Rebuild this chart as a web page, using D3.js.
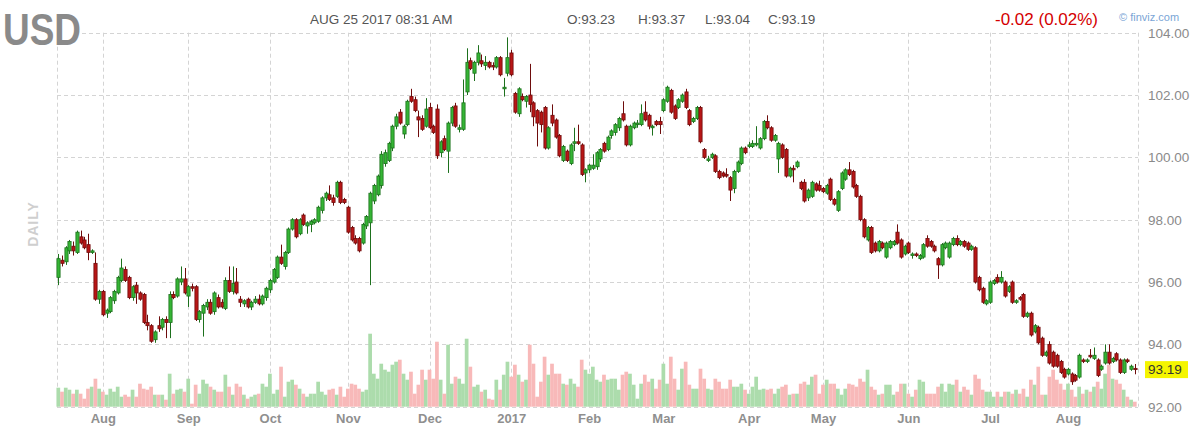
<!DOCTYPE html>
<html><head><meta charset="utf-8">
<script src="https://cdn.jsdelivr.net/npm/d3@7"></script>
<style>
body{margin:0;background:#fff;}
svg{display:block;font-family:"Liberation Sans",Arial,sans-serif;}
</style>
</head><body>
<svg id="chart" width="1198" height="434"></svg>
<script>
// ---------- DATA ----------
const ticker = "USD";
const startDate = "2016-07-14";
const holidays = ["2017-01-02"];
const headerDate = "AUG 25 2017 08:31 AM";
const lastQuote = {o: "93.23", h: "93.37", l: "93.04", c: "93.19"};
const changeText = "-0.02 (0.02%)";
const lastPrice = 93.19;
const priceTicks = [92, 94, 96, 98, 100, 102, 104];
const monthShort = ["Jan","Feb","Mar","Apr","May","Jun","Jul","Aug","Sep","Oct","Nov","Dec"];

// daily candles [open, high, low, close]
const ohlc = [
[96.15,96.9,95.9,96.75],[96.7,96.85,96.5,96.6],[96.65,97.15,96.55,97.1],[97.0,97.35,96.9,97.3],[97.15,97.3,96.85,97.0],
[96.95,97.65,96.9,97.6],[97.45,97.65,97.2,97.25],[97.35,97.45,97.05,97.1],[97.2,97.55,96.7,96.95],[96.95,97.05,96.9,97.0],
[96.6,96.95,95.4,95.45],[95.45,95.75,95.3,95.7],[95.7,95.75,94.9,94.95],[95.0,95.15,94.85,95.1],[95.05,95.55,95.0,95.5],
[95.4,95.75,95.3,95.7],[95.65,96.2,95.6,96.15],[96.05,96.75,96.0,96.45],[96.4,96.5,96.0,96.05],[96.15,96.2,95.45,95.5],
[95.5,95.9,95.4,95.85],[95.9,96.0,95.3,95.65],[95.65,95.7,95.4,95.45],[95.6,95.65,94.65,94.7],[94.7,94.95,94.45,94.6],
[94.6,94.65,94.05,94.1],[94.15,94.45,94.05,94.4],[94.6,94.9,94.4,94.5],[94.55,94.85,94.45,94.8],[94.8,94.9,94.2,94.7],
[94.7,95.7,94.2,95.6],[95.6,95.7,95.45,95.5],[95.55,96.15,95.5,96.1],[96.0,96.5,95.9,96.1],[96.1,96.45,95.6,95.65],
[95.55,95.9,95.2,95.85],[95.85,95.95,95.7,95.8],[95.85,95.9,94.75,94.8],[94.8,95.1,94.7,95.05],[95.0,95.3,94.25,95.25],
[95.2,95.45,95.1,95.35],[95.35,95.45,94.95,95.0],[95.05,95.7,94.95,95.65],[95.5,95.6,95.15,95.2],[95.35,95.45,95.15,95.2],
[95.15,96.15,95.1,96.05],[96.05,96.5,95.65,95.7],[95.7,96.5,95.6,95.95],[96.0,96.45,95.6,95.65],[95.45,95.55,95.2,95.35],
[95.3,95.45,95.2,95.4],[95.45,95.5,95.15,95.2],[95.2,95.4,95.1,95.35],[95.35,95.55,95.3,95.45],[95.45,95.6,95.25,95.3],
[95.3,95.6,95.25,95.55],[95.5,95.85,95.4,95.8],[95.75,96.1,95.65,96.05],[96.0,96.45,95.95,96.4],[96.15,96.85,96.1,96.8],
[96.8,97.2,96.55,96.6],[96.5,97.0,96.4,96.95],[96.95,97.75,96.9,97.7],[97.7,98.05,97.65,98.0],[98.0,98.05,97.4,97.45],
[97.55,98.05,97.5,98.0],[98.15,98.2,97.8,97.85],[97.8,97.95,97.55,97.9],[97.85,98.0,97.6,97.95],[97.9,98.05,97.85,98.0],
[97.95,98.45,97.9,98.4],[98.3,98.75,98.2,98.7],[98.7,98.9,98.6,98.85],[98.8,99.1,98.6,98.65],[98.7,98.8,98.45,98.55],
[98.75,99.25,98.7,99.2],[99.2,99.25,98.5,98.55],[98.65,98.7,98.5,98.55],[98.4,98.45,97.55,97.6],[97.75,97.8,97.3,97.35],
[97.4,97.5,97.2,97.25],[97.4,97.45,96.95,97.0],[97.25,97.9,97.2,97.85],[97.8,98.15,97.7,98.1],[97.9,98.9,95.9,98.85],
[98.6,99.15,98.5,99.1],[98.8,99.45,98.75,99.4],[99.1,100.2,99.0,100.1],[99.8,100.25,99.7,100.15],[99.9,100.5,99.85,100.45],
[100.3,101.05,100.2,101.0],[101.0,101.4,100.9,101.3],[101.45,101.55,101.05,101.1],[100.75,101.05,100.6,101.0],[101.05,101.85,101.0,101.8],
[101.95,102.2,101.75,101.8],[101.85,101.95,101.45,101.5],[101.3,101.5,100.65,101.2],[101.25,101.35,100.85,100.9],[101.0,101.9,100.95,101.55],
[101.6,101.75,100.9,100.95],[101.0,101.05,100.75,100.8],[101.55,101.7,99.95,100.05],[100.15,100.55,100.0,100.5],[100.6,100.7,100.2,100.25],
[100.2,101.15,99.5,101.1],[101.1,101.65,101.0,101.6],[101.65,101.75,100.95,101.0],[100.9,101.05,100.8,100.95],[100.9,102.5,100.85,101.75],
[102.1,103.5,102.0,103.05],[103.1,103.2,102.8,102.85],[102.7,103.1,102.45,103.05],[103.05,103.6,102.95,103.35],[103.1,103.3,102.9,103.0],
[102.95,103.25,102.8,103.05],[103.05,103.1,102.85,102.9],[102.95,103.05,102.8,102.9],[102.9,103.25,102.85,103.2],[103.2,103.25,102.6,102.65],
[102.2,102.55,101.95,102.25],[102.7,103.85,102.6,103.2],[103.35,103.45,102.6,102.65],[102.05,102.1,101.4,101.45],[101.4,102.25,101.3,102.2],
[101.95,102.05,101.8,101.85],[101.8,102.0,101.6,101.95],[102.0,103.0,101.45,101.7],[101.75,101.8,101.0,101.3],[101.5,101.55,100.35,101.1],
[101.45,101.5,100.8,101.05],[101.6,101.65,100.25,100.3],[100.3,101.0,100.25,100.95],[101.35,101.7,101.0,101.1],[101.2,101.25,100.6,100.65],
[100.7,100.75,100.0,100.05],[99.9,100.4,99.85,100.35],[100.2,100.25,99.85,99.9],[99.8,100.45,99.75,100.4],[100.45,100.95,100.2,100.5],
[100.5,101.05,100.4,100.45],[100.4,100.45,99.4,99.45],[99.5,99.65,99.2,99.6],[99.6,99.8,99.5,99.75],[99.65,100.1,99.6,99.75],
[99.7,100.2,99.6,100.15],[99.95,100.3,99.85,100.25],[100.45,100.5,100.15,100.2],[100.25,100.7,100.2,100.65],[100.7,100.9,100.6,100.85],
[100.8,101.1,100.7,101.05],[100.95,101.3,100.85,101.25],[101.4,101.8,101.15,101.2],[101.0,101.05,100.35,100.4],[100.4,101.05,100.35,101.0],
[100.95,101.15,100.9,101.1],[101.05,101.2,100.95,101.1],[101.05,101.7,101.0,101.4],[101.45,101.8,101.15,101.2],[101.35,101.4,100.9,101.0],
[100.95,101.05,100.7,101.0],[101.15,101.2,101.0,101.05],[101.15,101.3,100.75,101.05],[101.5,101.9,101.45,101.85],[101.8,102.3,101.75,102.25],
[102.15,102.2,101.4,101.45],[101.65,101.7,101.2,101.25],[101.6,101.9,101.55,101.85],[101.8,102.05,101.75,102.0],[102.1,102.2,101.55,101.6],
[101.5,101.55,101.0,101.05],[101.15,101.3,101.1,101.25],[101.25,101.65,101.2,101.6],[101.6,101.65,100.45,100.5],[100.25,100.3,99.95,100.0],
[99.9,100.05,99.85,99.95],[100.0,100.15,99.95,100.1],[100.05,100.1,99.5,99.55],[99.55,99.6,99.3,99.35],[99.5,99.55,99.35,99.4],
[99.45,99.65,99.35,99.4],[99.35,99.4,98.6,98.95],[99.0,99.6,98.85,99.55],[99.55,99.9,99.5,99.85],[99.8,100.35,99.75,100.3],
[100.3,100.35,100.1,100.15],[100.35,100.5,100.3,100.4],[100.35,100.55,100.3,100.45],[100.4,101.0,100.35,100.45],[100.3,100.65,100.25,100.6],
[100.6,101.2,100.55,101.15],[101.15,101.35,100.9,100.95],[100.95,101.0,100.5,100.55],[100.55,100.75,100.5,100.7],[99.95,100.5,99.5,100.45],
[100.4,100.45,99.95,100.0],[100.25,100.3,99.35,99.4],[99.4,99.7,99.35,99.65],[99.65,99.75,99.2,99.6],[99.7,99.9,99.65,99.85],
[99.2,99.25,98.95,99.0],[99.2,99.3,98.55,98.6],[98.7,99.0,98.6,98.95],[98.75,99.25,98.7,99.2],[99.15,99.2,98.9,98.95],
[99.1,99.25,98.9,98.95],[99.0,99.05,98.85,98.9],[98.85,99.15,98.8,99.1],[99.3,99.35,98.6,98.65],[98.65,98.7,98.45,98.5],
[98.3,98.95,98.25,98.9],[99.0,99.55,98.95,99.5],[99.3,99.65,99.25,99.6],[99.6,99.85,99.4,99.45],[99.55,99.6,99.0,99.05],
[99.1,99.15,98.7,98.75],[98.75,98.8,97.95,98.0],[98.0,98.05,97.4,97.45],[97.35,97.8,97.3,97.75],[97.75,97.8,96.9,96.95],
[97.25,97.3,96.95,97.0],[97.0,97.35,96.95,97.3],[97.25,97.3,97.05,97.1],[96.8,97.3,96.75,97.25],[97.1,97.35,97.05,97.3],
[97.2,97.35,97.15,97.3],[97.6,97.85,97.2,97.25],[97.35,97.4,96.75,96.8],[96.9,97.2,96.85,97.15],[97.25,97.3,96.9,96.95],
[96.85,96.95,96.75,96.9],[96.9,96.95,96.8,96.85],[96.75,96.9,96.7,96.85],[96.8,97.25,96.75,97.2],[97.4,97.5,97.1,97.15],
[97.3,97.35,97.1,97.15],[97.15,97.2,96.95,97.0],[96.75,96.8,96.1,96.55],[96.55,97.25,96.5,97.2],[97.1,97.3,97.05,97.25],
[96.8,97.3,96.75,97.25],[97.2,97.45,97.15,97.4],[97.4,97.5,97.15,97.2],[97.2,97.35,97.15,97.3],[97.3,97.35,97.1,97.15],
[97.25,97.3,97.0,97.05],[97.05,97.2,97.0,97.15],[97.1,97.15,95.95,96.0],[96.15,96.2,95.7,95.75],[95.8,95.85,95.3,95.35],
[95.3,95.45,95.25,95.4],[95.35,96.05,95.3,96.0],[95.95,96.1,95.9,96.05],[96.15,96.25,95.95,96.0],[96.0,96.35,95.95,96.15],
[96.0,96.05,95.5,95.55],[95.7,95.9,95.65,95.85],[96.0,96.05,95.3,95.35],[95.35,95.45,95.3,95.4],[95.5,95.55,95.4,95.45],
[95.6,95.65,94.85,94.9],[94.9,95.05,94.85,95.0],[95.0,95.05,94.25,94.3],[94.4,94.65,94.35,94.6],[94.55,94.6,94.0,94.05],
[94.2,94.25,93.6,93.65],[93.65,93.8,93.6,93.75],[94.0,94.1,93.35,93.4],[93.75,93.8,93.25,93.3],[93.65,93.7,93.25,93.3],
[93.45,93.5,93.05,93.1],[93.2,93.25,92.9,92.95],[93.05,93.25,93.0,93.2],[93.05,93.1,92.7,92.8],[93.0,93.05,92.8,92.85],
[92.95,93.7,92.9,93.65],[93.5,93.55,93.4,93.45],[93.45,93.55,93.4,93.5],[93.65,93.85,93.55,93.6],[93.55,93.9,93.5,93.65],
[93.5,93.55,92.95,93.0],[93.2,93.35,93.15,93.3],[93.4,94.0,93.35,93.75],[93.75,94.0,93.35,93.4],[93.45,93.6,93.4,93.55],
[93.7,93.75,93.45,93.5],[93.5,93.55,93.05,93.1],[93.1,93.55,93.05,93.5],[93.5,93.55,93.4,93.45],[93.2,93.35,93.15,93.3],
[93.23,93.37,93.04,93.19]
];

// daily volume (thousands of contracts)
const volume = [
19,15,19,17,13,17,13,8,18,20,28,18,15,12,18,15,20,10,12,10,17,10,23,18,17,20,12,12,
12,7,33,13,17,18,15,28,3,22,13,27,23,20,17,15,15,32,20,12,23,20,12,8,10,12,13,23,
20,33,13,17,40,10,25,27,22,18,13,10,13,13,25,15,12,17,18,12,20,10,18,23,22,18,15,17,73,33,28,
43,37,35,42,45,47,33,27,35,13,22,37,27,37,28,65,27,13,62,23,30,28,23,68,40,20,22,15,17,
8,7,27,17,32,45,30,42,32,25,27,62,43,10,25,50,32,43,33,33,23,22,28,23,20,47,37,33,40,27,
25,32,27,28,28,17,32,35,33,22,8,23,32,25,28,18,27,43,23,50,28,17,38,45,22,18,18,38,28,18,
17,28,25,18,18,27,20,20,23,17,13,20,30,17,18,17,18,13,18,20,22,12,13,13,23,25,22,30,32,
13,22,27,23,23,18,12,18,23,22,20,28,25,37,20,17,12,13,22,22,12,15,23,23,13,10,17,27,25,13,
13,13,20,23,15,23,22,27,15,20,17,12,32,28,17,15,15,10,15,10,15,15,13,17,13,18,10,27,22,40,
12,12,30,37,27,23,17,23,17,10,20,13,17,15,20,25,18,33,42,28,27,23,17,10,7,5
];

// ---------- LAYOUT ----------
const plotL = 57, plotR = 1138, plotT = 32.7, plotB = 406.7;
const svg = d3.select("#chart");
const n = ohlc.length;

// trading dates
const fmt = d3.timeFormat("%Y-%m-%d");
const hol = new Set(holidays);
const dates = [];
let cur = new Date(startDate + "T12:00:00");
while (dates.length < n) {
  const wd = cur.getDay();
  if (wd !== 0 && wd !== 6 && !hol.has(fmt(cur))) dates.push(new Date(cur));
  cur.setDate(cur.getDate() + 1);
}
const monthIdx = [];
for (let i = 1; i < n; i++) if (dates[i].getMonth() !== dates[i-1].getMonth()) monthIdx.push(i);
const monthLabel = i => dates[i].getMonth() === 0 ? String(dates[i].getFullYear()) : monthShort[dates[i].getMonth()];

const x = d3.scaleLinear().domain([0, n - 1]).range([58.3, 1134.8]);
const y = d3.scaleLinear().domain([92, 104]).range([plotB, plotT]);
const yv = d3.scaleLinear().domain([0, 80]).range([plotB, plotB - 80]);
const step = x(1) - x(0);

const gridColor = "#d4d4d4";
const dash = "4,3";

// grid
const grid = svg.append("g");
grid.selectAll("line.h").data(priceTicks).join("line")
  .attr("x1", t => t === 104 ? 82 : plotL).attr("x2", plotR)
  .attr("y1", t => Math.round(y(t)) + 0.5).attr("y2", t => Math.round(y(t)) + 0.5)
  .attr("stroke", gridColor).attr("stroke-dasharray", dash);
const vx = [plotL].concat(monthIdx.map(i => x(i)), [plotR]);
grid.selectAll("line.v").data(vx).join("line")
  .attr("x1", d => Math.round(d) + 0.5).attr("x2", d => Math.round(d) + 0.5)
  .attr("y1", plotT).attr("y2", plotB)
  .attr("stroke", gridColor).attr("stroke-dasharray", dash);

// volume
svg.append("g").selectAll("rect").data(volume).join("rect")
  .attr("x", (v, i) => x(i) - step / 2)
  .attr("width", step)
  .attr("y", v => yv(v))
  .attr("height", v => plotB - yv(v))
  .attr("fill", (v, i) => ohlc[i][3] >= ohlc[i][0] ? "#acdcac" : "#f8b9b9");

// candles
const cg = svg.append("g");
const up = d => d[3] >= d[0];
cg.selectAll("line").data(ohlc).join("line")
  .attr("x1", (d, i) => Math.round(x(i)) + 0.5).attr("x2", (d, i) => Math.round(x(i)) + 0.5)
  .attr("y1", d => y(d[1])).attr("y2", d => y(d[2]))
  .attr("stroke", d => up(d) ? "#1d701d" : "#6e0c0c").attr("stroke-width", 1);
cg.selectAll("rect").data(ohlc).join("rect")
  .attr("x", (d, i) => Math.round(x(i)) + 0.5 - 1.6)
  .attr("width", 3.2)
  .attr("y", d => y(Math.max(d[0], d[3])))
  .attr("height", d => Math.max(1, Math.abs(y(d[0]) - y(d[3]))))
  .attr("fill", d => up(d) ? "#35b535" : "#b81616")
  .attr("stroke", d => up(d) ? "#1d701d" : "#6e0c0c").attr("stroke-width", 0.8);

// right axis
const ya = svg.append("g").attr("transform", "translate(1148,0)")
  .call(d3.axisRight(y).tickValues(priceTicks).tickFormat(d3.format(".2f")).tickSize(0).tickPadding(0));
ya.select(".domain").remove();
ya.selectAll("text").attr("font-size", 13.5).attr("fill", "#8a8a8a").attr("font-family", "Liberation Sans, Arial, sans-serif");

// last price badge
svg.append("rect").attr("x", 1145).attr("y", y(lastPrice) - 8.5).attr("width", 43).attr("height", 17).attr("fill", "#f5f500");
svg.append("text").attr("x", 1148).attr("y", y(lastPrice)).attr("dy", "0.35em")
  .attr("font-size", 13.5).attr("fill", "#333").text(lastPrice.toFixed(2));

// month axis
const xa = svg.append("g").attr("transform", "translate(0,414)")
  .call(d3.axisBottom(x).tickValues(monthIdx).tickFormat(monthLabel).tickSize(0).tickPadding(0));
xa.select(".domain").remove();
xa.selectAll("text").attr("font-size", 13).attr("font-weight", "bold").attr("fill", "#8f8f8f")
  .attr("font-family", "Liberation Sans, Arial, sans-serif");

// DAILY
svg.append("text").attr("transform", "translate(38,224) rotate(-90)").attr("text-anchor", "middle")
  .attr("font-size", 14).attr("font-weight", "bold").attr("fill", "#cfcfcf").attr("letter-spacing", 1).text("DAILY");

// header
svg.append("text").attr("x", 3).attr("y", 45).attr("font-size", 44).attr("font-weight", "bold")
  .attr("fill", "#8a8a8a").attr("textLength", 78).attr("lengthAdjust", "spacingAndGlyphs").text(ticker);
const hdr = [
  {t: headerDate, x: 310}, {t: "O:" + lastQuote.o, x: 567}, {t: "H:" + lastQuote.h, x: 638},
  {t: "L:" + lastQuote.l, x: 705}, {t: "C:" + lastQuote.c, x: 768}
];
svg.append("g").selectAll("text").data(hdr).join("text")
  .attr("x", d => d.x).attr("y", 24).attr("font-size", 13.5).attr("fill", "#555").text(d => d.t);
svg.append("text").attr("x", 995).attr("y", 25).attr("font-size", 17).attr("fill", "#d40000").text(changeText);
svg.append("text").attr("x", 1119).attr("y", 21).attr("font-size", 11).attr("fill", "#7aa5d6").text("\u00A9 finviz.com");
</script>
</body></html>
